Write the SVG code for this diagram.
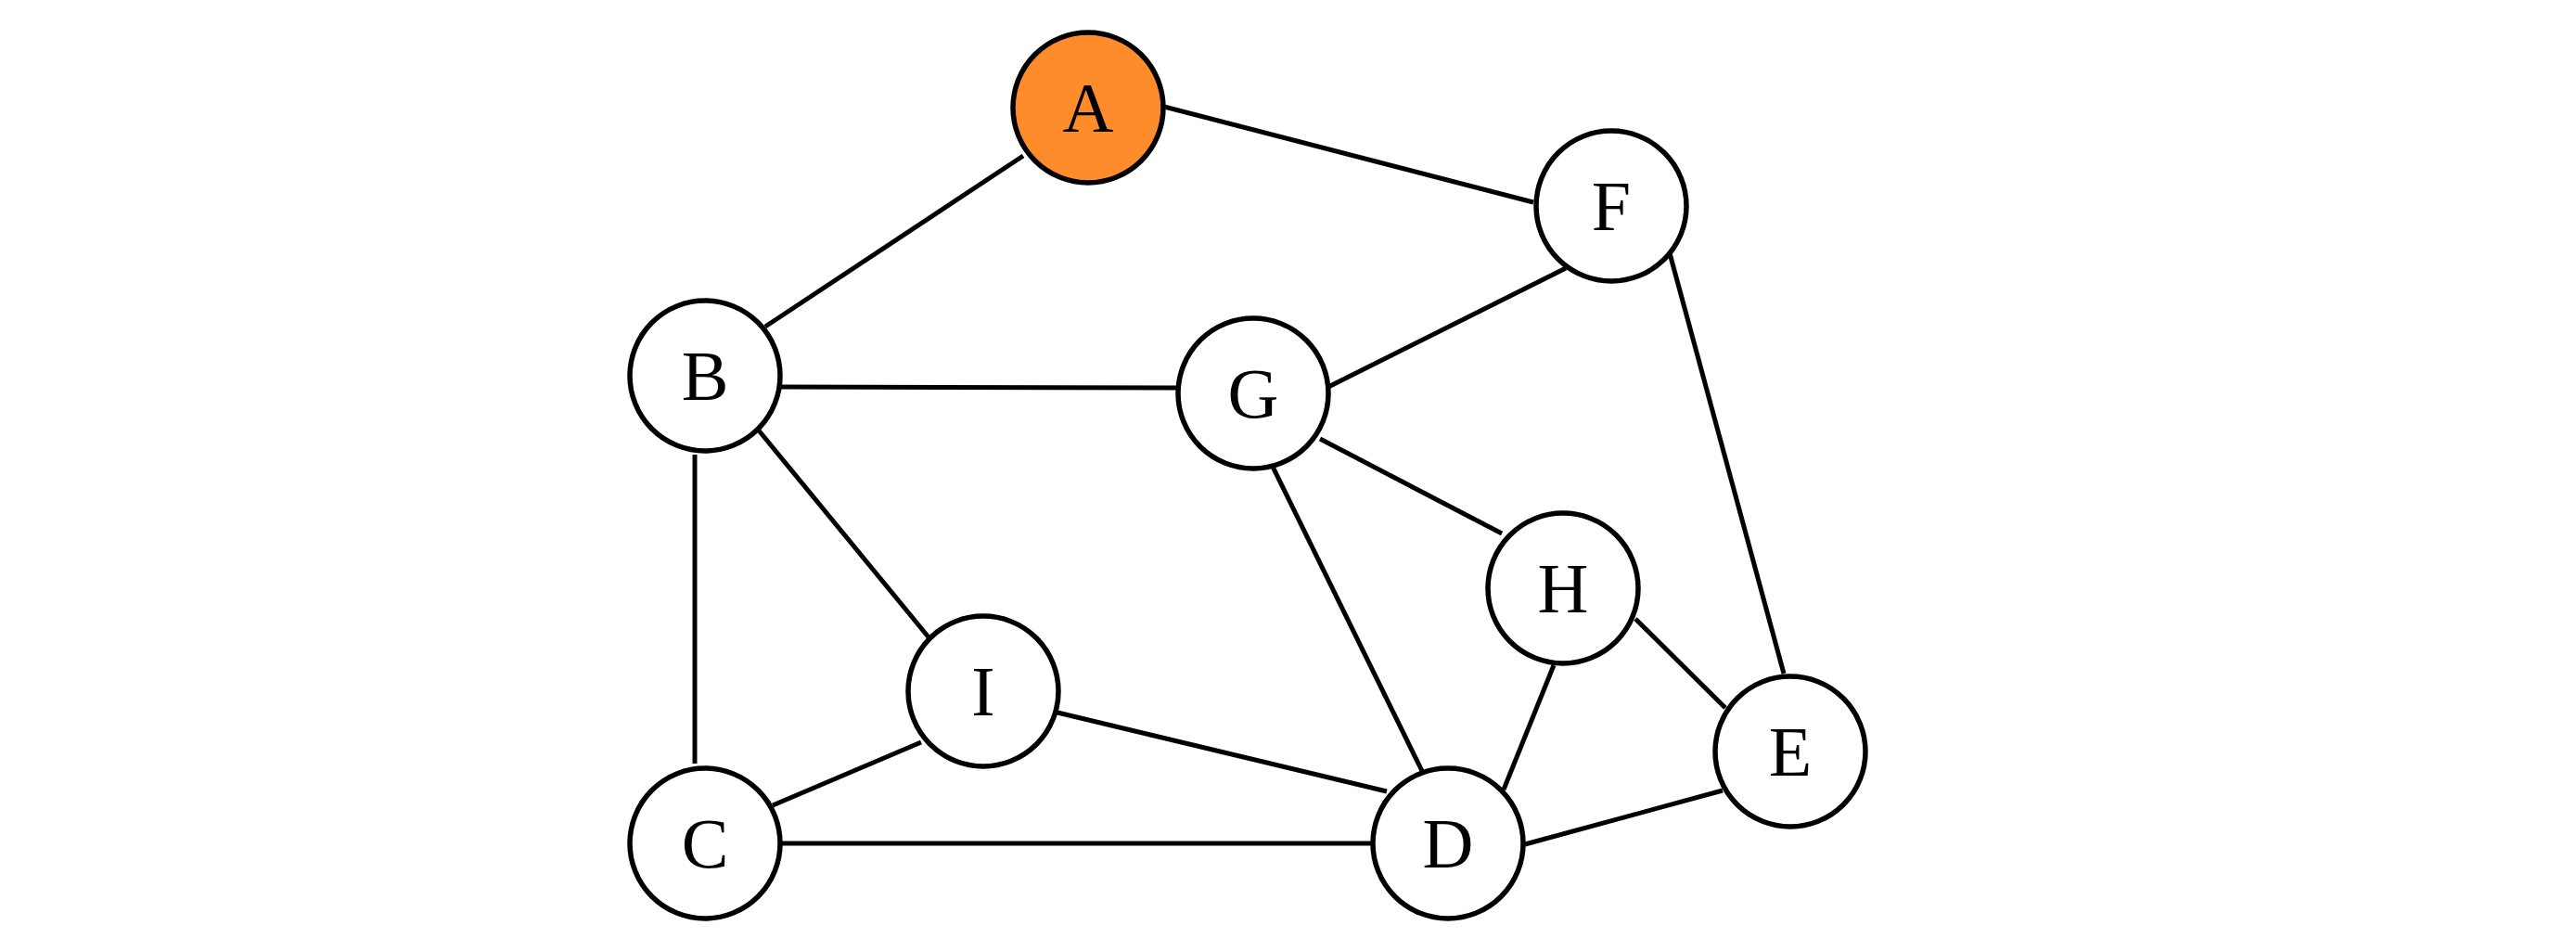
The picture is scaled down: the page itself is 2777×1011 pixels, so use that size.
<svg xmlns="http://www.w3.org/2000/svg" width="2777" height="1011" viewBox="0 0 2777 1011">
<style>
.n circle{fill:#ffffff;stroke:#000;stroke-width:5.5}
.n text{font-family:"Liberation Serif","Times New Roman",serif;font-size:76px;text-anchor:middle;fill:#000}
.e line{stroke:#000;stroke-width:5;stroke-linecap:butt}
</style>
<rect width="2777" height="1011" fill="#ffffff"/>
<g id="edges" class="e">
<line x1="1103" y1="168" x2="825" y2="352"/>
<line x1="1255" y1="115" x2="1653" y2="218"/>
<line x1="842" y1="417" x2="1270" y2="418"/>
<line x1="818" y1="464" x2="1002" y2="688"/>
<line x1="749" y1="490" x2="749" y2="823"/>
<line x1="1688" y1="289" x2="1432" y2="417"/>
<line x1="1800" y1="273" x2="1923" y2="726"/>
<line x1="1423" y1="473" x2="1619" y2="575"/>
<line x1="1372" y1="503" x2="1533" y2="831"/>
<line x1="1763" y1="667" x2="1860" y2="763"/>
<line x1="1675" y1="717" x2="1621" y2="851"/>
<line x1="993" y1="800" x2="833" y2="868"/>
<line x1="1140" y1="768" x2="1495" y2="853"/>
<line x1="843" y1="909" x2="1479" y2="909"/>
<line x1="1644" y1="910" x2="1857" y2="852"/>
</g>
<g id="A" class="n"><circle cx="1173" cy="116" r="81" style="fill:#ff8c2a"/><text x="1173" y="142">A</text></g>
<g id="B" class="n"><circle cx="760" cy="405" r="81"/><text x="760" y="431">B</text></g>
<g id="C" class="n"><circle cx="760" cy="909" r="81"/><text x="760" y="935">C</text></g>
<g id="D" class="n"><circle cx="1561" cy="909" r="81"/><text x="1561" y="935">D</text></g>
<g id="E" class="n"><circle cx="1930" cy="810" r="81"/><text x="1930" y="836">E</text></g>
<g id="F" class="n"><circle cx="1737" cy="222" r="81"/><text x="1737" y="248">F</text></g>
<g id="G" class="n"><circle cx="1351" cy="424" r="81"/><text x="1351" y="450">G</text></g>
<g id="H" class="n"><circle cx="1685" cy="634" r="81"/><text x="1685" y="660">H</text></g>
<g id="I" class="n"><circle cx="1060" cy="745" r="81"/><text x="1060" y="771">I</text></g>
</svg>
